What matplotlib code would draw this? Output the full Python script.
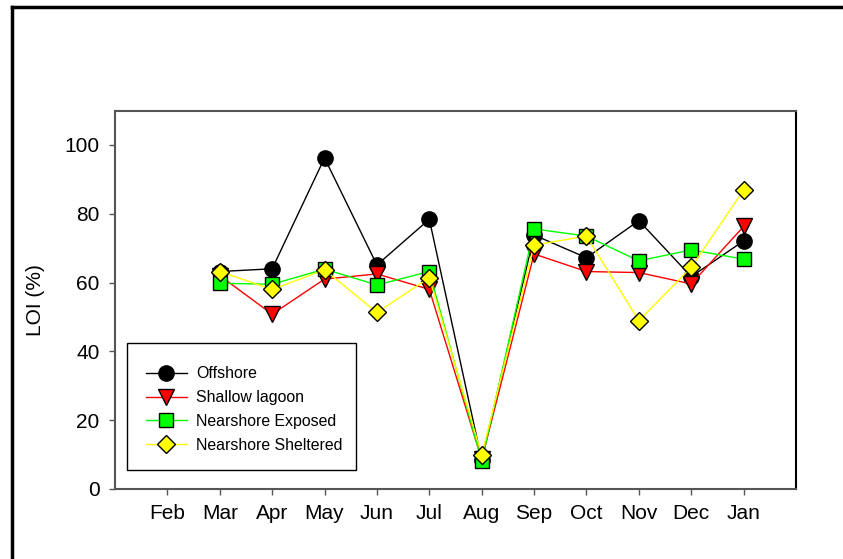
import matplotlib.pyplot as plt
import numpy as np
from matplotlib.lines import Line2D
from matplotlib.patches import Rectangle

plt.rcParams['font.family'] = ['Liberation Sans', 'DejaVu Sans']

meses = ['Feb', 'Mar', 'Apr', 'May', 'Jun', 'Jul', 'Aug', 'Sep', 'Oct', 'Nov', 'Dec', 'Jan']

# LOI (%) por mes, Feb sin dato
offshore = [np.nan, 63.2, 64.0, 96.2, 65.1, 78.4, 8.4, 73.8, 67.2, 78.0, 61.7, 72.1]
shallow_lagoon = [np.nan, 62.0, 50.8, 61.0, 62.5, 58.0, 8.6, 68.3, 63.2, 62.9, 59.6, 76.3]
nearshore_exposed = [np.nan, 59.8, 59.5, 63.9, 59.3, 63.2, 8.1, 75.6, 73.5, 66.3, 69.5, 66.8]
nearshore_sheltered = [np.nan, 63.2, 58.0, 63.7, 51.3, 61.4, 9.9, 70.9, 73.5, 48.9, 64.4, 86.9]

fig = plt.figure(figsize=(8.43, 5.59), dpi=100)
ax = fig.add_axes([115 / 843, 1 - 489 / 559, (796 - 115) / 843, (489 - 110.5) / 559])

x = np.arange(len(meses))

ax.plot(x, offshore, color='black', lw=1, marker='o', ms=11, mfc='black', mec='black', label='Offshore')
ax.plot(x, shallow_lagoon, color='red', lw=1, marker='v', ms=11, mfc='red', mec='black', mew=1, label='Shallow lagoon')
ax.plot(x, nearshore_exposed, color='#00ff00', lw=1, marker='s', ms=9.5, mfc='#00ff00', mec='black', mew=1, label='Nearshore Exposed')
ax.plot(x, nearshore_sheltered, color='#ffff00', lw=1, marker='D', ms=9.5, mfc='#ffff00', mec='black', mew=1, label='Nearshore Sheltered')

ax.set_xlim(-1, 12)
ax.set_ylim(0, 110)
ax.set_xticks(x)
ax.set_xticklabels(meses)
ax.set_yticks([0, 20, 40, 60, 80, 100])
ax.tick_params(direction='out', length=4, width=1, color='#555555', labelsize=15, pad=7)
for lado in ['left', 'bottom', 'top']:
    ax.spines[lado].set_color('#555555')
ax.spines['right'].set_color('black')
for s in ax.spines.values():
    s.set_linewidth(1.5)

ax.set_ylabel('LOI (%)', fontsize=15, labelpad=14)

# caja de la leyenda
x0, x1 = (127 - 115) / 681, (356 - 115) / 681
y0, y1 = (489 - 470) / 378.5, (489 - 343) / 378.5
ax.add_patch(Rectangle((x0, y0), x1 - x0, y1 - y0, transform=ax.transAxes,
                       facecolor='white', edgecolor='black', lw=1, zorder=4))
leg = ax.legend(loc='center', bbox_to_anchor=((x0 + x1) / 2 + 0.004, (y0 + y1) / 2 - 0.008), fontsize=11.4,
                frameon=False, borderpad=0, labelspacing=0.55, handlelength=2.6,
                handletextpad=0.6, borderaxespad=0)
leg.set_zorder(5)

# marco exterior
fig.add_artist(Line2D([12 / 843, 12 / 843], [0, 1 - 7 / 559], color='black', lw=2.5, transform=fig.transFigure))
fig.add_artist(Line2D([12 / 843, 1], [1 - 7 / 559, 1 - 7 / 559], color='black', lw=2.5, transform=fig.transFigure))

fig.savefig('out.png', dpi=100)
